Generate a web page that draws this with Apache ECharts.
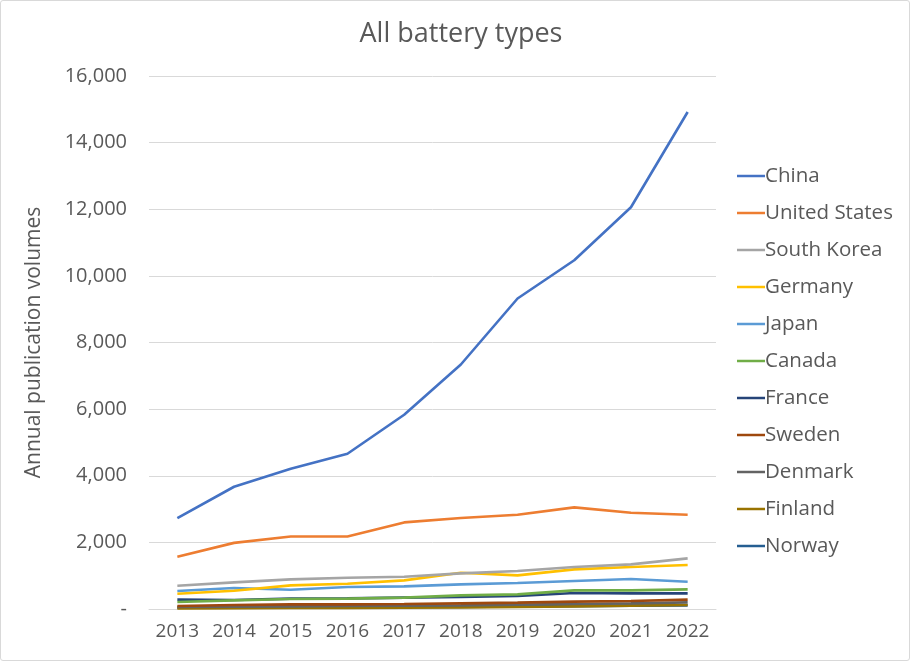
<!DOCTYPE html>
<html>
<head>
<meta charset="utf-8">
<script src="https://cdn.jsdelivr.net/npm/echarts@6/dist/echarts.min.js"></script>
<style>
  html, body { margin: 0; padding: 0; background: #fff; }
  #chart { position: absolute; left: 0; top: 0; width: 908px; height: 659px; border: 1px solid #d9d9d9; border-radius: 3px; }
</style>
</head>
<body>
<div id="chart"></div>
<script>
// Annual publication volumes per country, all battery types
const years = ['2013','2014','2015','2016','2017','2018','2019','2020','2021','2022'];
const countries = ['China','United States','South Korea','Germany','Japan','Canada','France','Sweden','Denmark','Finland','Norway'];

const china        = [2730, 3670, 4210, 4660, 5830, 7340, 9320, 10470, 12060, 14920];
const unitedStates = [1570, 1985, 2175, 2175, 2600, 2730, 2830, 3050, 2890, 2830];
const southKorea   = [700, 800, 890, 940, 970, 1070, 1140, 1260, 1340, 1520];
const germany      = [460, 550, 710, 760, 860, 1090, 1010, 1190, 1260, 1320];
const japan        = [540, 630, 580, 660, 680, 740, 780, 840, 900, 820];
const canada       = [210, 260, 300, 310, 340, 410, 440, 560, 560, 590];
const france       = [280, 270, 310, 320, 340, 360, 390, 480, 470, 470];
const sweden       = [90, 120, 140, 140, 150, 170, 190, 220, 240, 280];
const denmark      = [60, 70, 80, 90, 100, 110, 130, 150, 170, 200];
const finland      = [20, 25, 30, 35, 40, 50, 60, 80, 100, 120];
const norway       = [40, 45, 50, 55, 60, 65, 75, 85, 100, 110];

const seriesValues = [china, unitedStates, southKorea, germany, japan, canada, france, sweden, denmark, finland, norway];
const colors = ['#4472C4','#ED7D31','#A5A5A5','#FFC000','#5B9BD5','#70AD47','#264478','#9E480E','#636363','#997300','#255E91'];

const font = '"Open Sans", "Noto Sans", sans-serif';
const chart = echarts.init(document.getElementById('chart'));

chart.setOption({
  animation: false,
  color: colors,
  title: {
    text: 'All battery types',
    left: 455, top: 15, textAlign: 'center',
    textStyle: { fontFamily: font, fontSize: 27, fontWeight: 'normal', color: '#595959' }
  },
  grid: { left: 148, right: 193, top: 75, bottom: 51 },
  legend: {
    orient: 'vertical', left: 731, top: 159,
    itemWidth: 28, itemHeight: 14, itemGap: 15,
    icon: 'path://M0,6 L28,6 L28,8.5 L0,8.5 Z',
    textStyle: { fontFamily: font, fontSize: 20.5, lineHeight: 22, color: '#595959', padding: [0, 0, 0, -5] },
    data: countries
  },
  xAxis: {
    type: 'category', data: years, boundaryGap: true,
    axisLine: { lineStyle: { color: '#d9d9d9', width: 1 } },
    axisTick: { show: false },
    axisLabel: { fontFamily: font, fontSize: 19, color: '#595959', margin: 13 }
  },
  yAxis: {
    type: 'value', min: 0, max: 16000, interval: 2000,
    name: 'Annual publication volumes', nameLocation: 'middle', nameGap: 104,
    nameTextStyle: { fontFamily: font, fontSize: 21, color: '#595959' },
    axisLine: { show: false }, axisTick: { show: false },
    splitLine: { lineStyle: { color: '#d9d9d9', width: 1 } },
    axisLabel: {
      fontFamily: font, fontSize: 20, color: '#595959', margin: 22,
      formatter: v => v === 0 ? '-' : v.toLocaleString('en-US')
    }
  },
  series: countries.map((name, i) => ({
    name, type: 'line', data: seriesValues[i],
    symbol: 'none', z: 20 - i,
    lineStyle: { width: 2.6, color: colors[i] }
  }))
});
</script>
</body>
</html>
